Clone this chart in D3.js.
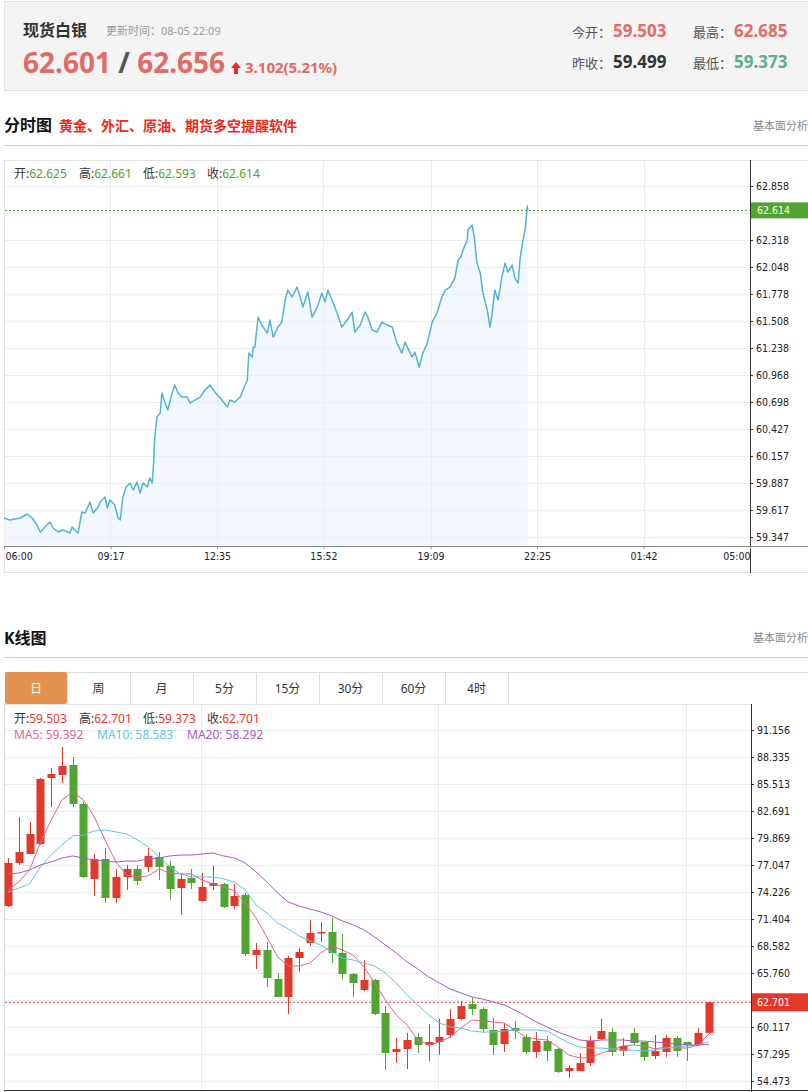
<!DOCTYPE html>
<html>
<head>
<meta charset="utf-8">
<script src="https://cdn.jsdelivr.net/npm/d3@7"></script>
<style>
  body { margin: 0; background: #fff; }
  svg { display: block; }
</style>
</head>
<body>
<script>
// ---- quote header values
var quoteName = "现货白银";
var updateTime = "更新时间：08-05 22:09";
var bidAsk = ["62.601", "62.656"];
var change = "3.102(5.21%)";
var quoteStats = [
  { label: "今开：", value: "59.503", kind: "up" },
  { label: "最高：", value: "62.685", kind: "up" },
  { label: "昨收：", value: "59.499", kind: "flat" },
  { label: "最低：", value: "59.373", kind: "down" }
];

// ---- intraday (分时) data: minutes after 06:00, price
var intradayMinutes = [0,11,30,43,52,61,67,76,85,91,100,109,122,126,131,137,144,150,159,165,
  174,178,187,191,196,205,211,215,220,226,233,239,246,252,257,265,270,274,276,279,
  283,289,292,298,303,311,316,322,329,339,344,353,363,372,381,390,400,413,418,427,
  437,446,450,453,459,461,464,470,477,487,492,498,507,514,520,525,533,542,548,553,
  562,570,579,588,594,599,609,616,625,635,644,649,659,668,673,681,690,699,709,718,
  727,736,742,747,755,760,768,775,783,792,801,810,816,825,834,840,845,849,857,858,
  866,870,875,881,886,894,899,903,908,914,921,927,932,940,945,951,955,960,964,968,969];
var intradayPrices = [59.537,59.517,59.537,59.577,59.537,59.467,59.397,59.447,59.497,59.437,
  59.397,59.417,59.387,59.447,59.417,59.387,59.597,59.587,59.697,59.587,
  59.647,59.697,59.747,59.637,59.717,59.667,59.537,59.517,59.747,59.847,
  59.887,59.817,59.897,59.787,59.887,59.847,59.937,59.887,60.017,60.347,
  60.547,60.587,60.787,60.687,60.617,60.787,60.867,60.787,60.747,60.747,
  60.687,60.717,60.747,60.817,60.867,60.797,60.737,60.647,60.717,60.697,
  60.747,60.867,60.917,61.187,61.147,61.247,61.247,61.547,61.467,61.387,
  61.517,61.347,61.447,61.497,61.717,61.817,61.747,61.847,61.747,61.647,
  61.797,61.547,61.637,61.787,61.697,61.817,61.687,61.587,61.447,61.517,
  61.597,61.397,61.467,61.597,61.547,61.417,61.397,61.497,61.467,61.447,
  61.287,61.187,61.297,61.237,61.147,61.197,61.047,61.187,61.287,61.497,
  61.587,61.747,61.817,61.847,61.937,62.117,62.147,62.217,62.317,62.417,
  62.467,62.347,62.087,61.987,61.787,61.617,61.447,61.587,61.817,61.717,
  61.947,62.087,61.997,62.067,61.937,61.887,62.147,62.317,62.417,62.657,62.614];
var intradayTicks = [59.347,59.617,59.887,60.157,60.427,60.698,60.968,61.238,61.508,61.778,62.048,62.318,62.588,62.858];
var timeTickMinutes = [0,197,394,591,789,986,1183,1380];
var timeLabels = ["06:00","09:17","12:35","15:52","19:09","22:25","01:42","05:00"];
var intradayLast = 62.614;
var intradayBar = [["开:", "62.625"], ["高:", "62.661"], ["低:", "62.593"], ["收:", "62.614"]];

// ---- daily K line data
var kOpen = [72.764,77.258,78.199,79.244,86.143,86.456,87.501,83.425,75.586,77.676,
  73.600,75.795,76.631,76.840,77.885,76.945,74.645,75.691,73.287,74.854,
  75.063,72.764,73.914,67.643,68.165,65.134,63.253,67.329,68.897,69.942,
  70.046,67.852,65.657,63.984,65.030,61.580,57.504,57.818,59.072,58.236,
  58.549,59.281,60.953,62.521,61.998,59.804,58.340,60.013,59.072,57.504,
  58.654,57.818,55.518,55.518,56.354,58.863,59.594,57.609,59.490,58.549,
  57.086,57.504,58.967,58.549,58.236,59.503];
var kClose = [77.258,78.408,80.289,86.038,86.561,87.397,83.425,75.795,77.676,73.600,
  75.795,76.631,75.377,77.990,76.840,74.541,75.586,75.168,74.750,75.168,
  72.659,73.809,67.747,68.165,65.239,63.253,67.329,67.956,69.942,70.046,
  67.852,65.657,64.716,65.030,61.476,57.400,57.818,58.758,58.236,58.549,
  59.072,60.953,62.312,61.998,59.908,58.236,59.908,59.699,57.504,58.654,
  57.609,55.414,55.832,56.354,58.654,59.699,57.504,58.131,58.445,56.981,
  57.609,58.967,57.609,58.236,59.499,62.701];
var kHigh = [77.781,82.066,81.544,86.143,87.188,89.383,88.337,83.634,78.199,78.826,
  76.631,77.049,77.049,78.826,78.408,77.467,76.109,76.631,76.213,76.945,
  75.168,75.063,74.123,68.897,69.001,65.761,67.538,68.374,71.301,71.092,
  71.510,69.837,65.761,67.120,65.134,62.312,58.967,59.490,59.490,60.431,
  60.953,61.998,62.835,63.148,62.207,61.058,60.535,60.744,59.385,59.594,
  59.176,57.922,56.145,57.400,59.176,60.953,60.013,58.967,60.013,58.549,
  59.281,59.281,59.176,58.549,60.013,62.701];
var kLow = [72.659,77.049,78.199,79.140,83.111,85.620,83.111,75.691,73.809,73.078,
  73.078,74.436,74.959,76.318,75.482,73.391,71.823,74.541,73.182,74.436,
  72.555,72.450,67.538,66.179,64.298,63.253,61.476,65.866,68.583,69.001,
  66.806,65.134,63.253,63.880,61.371,55.623,56.354,55.727,57.400,56.563,
  57.191,58.967,60.849,61.371,59.490,57.191,57.504,58.863,57.295,56.877,
  56.563,55.309,54.787,55.518,56.041,58.758,57.086,57.086,58.236,56.563,
  56.772,56.981,56.981,56.563,58.131,59.373];
var ma5 = [74.44,75.27,76.53,79.35,81.75,83.84,84.68,83.84,82.07,79.66,
  77.36,76.00,75.80,75.90,76.63,76.21,76.11,76.11,75.48,75.06,
  74.75,74.33,73.08,71.51,69.52,67.43,66.49,66.49,66.81,67.85,
  68.58,68.17,67.64,66.39,64.72,62.94,61.37,60.33,58.76,58.24,
  58.55,59.07,60.01,60.85,60.74,60.64,60.54,59.80,59.07,58.86,
  58.76,58.03,57.19,56.88,56.88,57.40,57.71,58.13,58.24,58.13,
  57.82,58.03,57.92,57.92,58.24,59.392];
var ma10 = [74.23,74.64,75.06,76.84,78.09,79.14,80.08,80.18,80.60,80.71,
  80.50,80.29,79.66,78.93,77.89,76.84,76.11,75.80,75.80,75.80,
  75.59,75.27,74.44,72.87,72.03,70.99,70.36,69.63,69.11,68.69,
  67.96,67.33,67.12,66.81,66.49,65.76,64.72,63.46,62.42,61.37,
  60.54,60.12,60.01,59.70,59.59,59.59,59.70,59.80,59.80,59.80,
  59.70,59.07,58.44,58.03,57.92,57.92,57.82,57.71,57.71,57.61,
  57.71,57.92,58.03,58.13,58.24,58.583];
var ma20 = [76.11,76.21,76.53,77.05,77.36,77.78,77.99,77.78,77.57,77.46,
  77.36,77.46,77.46,77.68,77.78,77.99,78.09,78.09,78.20,78.30,
  77.99,77.78,77.26,76.32,75.27,74.12,73.18,72.76,72.45,72.14,
  71.72,71.20,70.78,70.26,69.52,68.69,67.85,66.91,66.18,65.34,
  64.72,64.09,63.67,63.25,63.04,62.73,62.42,61.89,61.27,60.64,
  60.12,59.59,59.18,58.76,58.65,58.76,58.76,58.76,58.65,58.65,
  58.55,58.44,58.34,58.24,58.24,58.292];
var kTicks = [54.473,57.295,60.117,62.938,65.760,68.582,71.404,74.226,77.047,79.869,82.691,85.513,88.335,91.156];
var monthStarts = [18, 40, 63];
var kLast = 62.701;
var kBar = [["开:", "59.503"], ["高:", "62.701"], ["低:", "59.373"], ["收:", "62.701"]];
var maLegend = [["MA5: ", "59.392"], ["MA10: ", "58.583"], ["MA20: ", "58.292"]];
var tabs = ["日", "周", "月", "5分", "15分", "30分", "60分", "4时"];

// ---- colours & fonts
var upColor = "#e2392a", downColor = "#4fa52f", priceRed = "#e26b66";
var gridColor = "#e6ecf0";
var maColors = ["#e4628e", "#5fc6e0", "#a95ac8"];
var cnFont = "'Microsoft YaHei','Noto Sans','Noto Sans CJK SC',sans-serif";
var numFont = "'DejaVu Sans Condensed','DejaVu Sans',sans-serif";

var svg = d3.select("body").append("svg")
  .attr("width", 808)
  .attr("height", 1092)
  .style("font-family", cnFont);

function label(g, x, y, str, size, color, weight, anchor) {
  return g.append("text")
    .attr("x", x).attr("y", y)
    .attr("font-size", size)
    .attr("fill", color)
    .attr("font-weight", weight || "normal")
    .attr("text-anchor", anchor || "start")
    .text(str);
}

// ticks hidden behind the price tag get no label
function tagFormat(scale, last) {
  var f = d3.format(".3f");
  return function(d) { return Math.abs(scale(d) - scale(last)) < 10 ? "" : f(d); };
}

// ================= header =================
var head = svg.append("g");
head.append("rect")
  .attr("x", 4.5).attr("y", 1.5).attr("width", 810).attr("height", 89)
  .attr("fill", "#f4f4f4").attr("stroke", "#e3e3e3");
label(head, 23, 36, quoteName, 16, "#333", "bold");
label(head, 106, 35, updateTime, 11, "#9a9a9a");

var big = head.append("text").attr("x", 23).attr("y", 73)
  .attr("font-size", 28).attr("font-weight", "bold").attr("fill", priceRed);
big.append("tspan").text(bidAsk[0]);
big.append("tspan").attr("fill", "#555").text(" / ");
big.append("tspan").text(bidAsk[1]);

head.append("path")
  .attr("d", "M236,62 L241,68 L238,68 L238,74 L234,74 L234,68 L231,68 Z")
  .attr("fill", "#ee2a1f");
label(head, 245, 73, change, 15, priceRed, "bold");

var statColor = { up: priceRed, flat: "#333", down: "#5cae8c" };
quoteStats.forEach(function(s, i) {
  var col = i % 2, row = Math.floor(i / 2);
  var x0 = col === 0 ? 572 : 693;
  var y0 = row === 0 ? 37 : 68;
  label(head, x0, y0, s.label, 13, "#555");
  label(head, x0 + 41, y0, s.value, 17, statColor[s.kind], "bold");
});

// ================= section titles =================
label(svg, 4, 131, "分时图", 16, "#111", "bold");
label(svg, 59, 131, "黄金、外汇、原油、期货多空提醒软件", 14, "#ec2a20", "bold");
label(svg, 808, 130, "基本面分析", 11, "#888", "normal", "end");
svg.append("line").attr("x1", 4).attr("x2", 808).attr("y1", 145.5).attr("y2", 145.5).attr("stroke", "#d0d0d0");

label(svg, 4, 644, "K线图", 16, "#111", "bold");
label(svg, 808, 642, "基本面分析", 11, "#888", "normal", "end");
svg.append("line").attr("x1", 4).attr("x2", 808).attr("y1", 657.5).attr("y2", 657.5).attr("stroke", "#d0d0d0");

// ================= intraday chart =================
var ix = d3.scaleLinear().domain([0, 1380]).range([4, 750]);
var iy = d3.scaleLinear().domain([59.347, 62.858]).range([537, 186]);
var intra = svg.append("g");

intra.append("rect")
  .attr("x", 4.5).attr("y", 160.5).attr("width", 810).attr("height", 412)
  .attr("fill", "#fff").attr("stroke", "#e3e3e3");

// grid
intra.selectAll(".hgrid").data(intradayTicks).enter().append("line")
  .attr("x1", 5).attr("x2", 750)
  .attr("y1", function(d) { return Math.round(iy(d)) + 0.5; })
  .attr("y2", function(d) { return Math.round(iy(d)) + 0.5; })
  .attr("stroke", gridColor);
intra.selectAll(".vgrid").data(timeTickMinutes.slice(1, -1)).enter().append("line")
  .attr("x1", function(d) { return Math.round(ix(d)) + 0.5; })
  .attr("x2", function(d) { return Math.round(ix(d)) + 0.5; })
  .attr("y1", 161).attr("y2", 546)
  .attr("stroke", gridColor);

// area + line
var pts = d3.zip(intradayMinutes, intradayPrices);
intra.append("path").datum(pts)
  .attr("d", d3.area()
    .x(function(d) { return ix(d[0]); })
    .y0(546)
    .y1(function(d) { return iy(d[1]); }))
  .attr("fill", "#eaf4fb").attr("fill-opacity", 0.6);
intra.append("path").datum(pts)
  .attr("d", d3.line()
    .x(function(d) { return ix(d[0]); })
    .y(function(d) { return iy(d[1]); }))
  .attr("fill", "none").attr("stroke", "#52b3d4").attr("stroke-width", 1.5)
  .attr("stroke-linejoin", "round");

// last price dotted line
intra.append("line")
  .attr("x1", 5).attr("x2", 750)
  .attr("y1", iy(intradayLast)).attr("y2", iy(intradayLast))
  .attr("stroke", "#4ea52f").attr("stroke-dasharray", "2,2");

// OHLC bar text
var ibarX = [14, 79, 143, 207];
intradayBar.forEach(function(p, i) {
  var t = intra.append("text").attr("x", ibarX[i]).attr("y", 178).attr("font-size", 12);
  t.append("tspan").attr("fill", "#333").text(p[0]);
  t.append("tspan").attr("fill", "#4ea52f").text(p[1]);
});

// right price axis
var iyAxis = d3.axisRight(iy).tickValues(intradayTicks).tickSize(3).tickPadding(3)
  .tickFormat(tagFormat(iy, intradayLast));
var iyG = intra.append("g").attr("transform", "translate(750,0)").call(iyAxis);
iyG.select(".domain").remove();
iyG.selectAll("text").attr("font-family", numFont).attr("font-size", 10.5).attr("fill", "#222");
iyG.selectAll("line").attr("stroke", "#333");
intra.append("line").attr("x1", 750.5).attr("x2", 750.5).attr("y1", 160).attr("y2", 573).attr("stroke", "#333");

// price tag
intra.append("rect").attr("x", 751).attr("y", iy(intradayLast) - 8).attr("width", 57).attr("height", 16)
  .attr("fill", "#4ea52f");
label(intra, 757, iy(intradayLast) + 4, "62.614", 10.5, "#fff").attr("font-family", numFont);

// time axis
var ixAxis = d3.axisBottom(ix).tickValues(timeTickMinutes).tickSize(3).tickPadding(4)
  .tickFormat(function(d, i) { return timeLabels[i]; });
var ixG = intra.append("g").attr("transform", "translate(0,546)").call(ixAxis);
ixG.select(".domain").remove();
ixG.selectAll("line").attr("stroke", "#999");
ixG.selectAll("text").attr("font-family", numFont).attr("font-size", 10.5).attr("fill", "#222")
  .attr("text-anchor", function(d, i) { return i === 0 ? "start" : (i === timeLabels.length - 1 ? "end" : "middle"); })
  .attr("dx", function(d, i) { return i === 0 ? 1 : 0; });
intra.append("line").attr("x1", 4).attr("x2", 808).attr("y1", 546.5).attr("y2", 546.5).attr("stroke", "#888");

// ================= K line tabs =================
var tabEdges = [5, 67, 130, 193, 256, 319, 382, 445, 508];
var tabG = svg.append("g");
tabG.append("line").attr("x1", 4).attr("x2", 808).attr("y1", 672.5).attr("y2", 672.5).attr("stroke", "#ddd");
tabs.forEach(function(t, i) {
  var x0 = tabEdges[i], x1 = tabEdges[i + 1];
  if (i === 0) {
    tabG.append("rect").attr("x", x0).attr("y", 672).attr("width", x1 - x0).attr("height", 32)
      .attr("rx", 2).attr("fill", "#e3924f");
  }
  tabG.append("line").attr("x1", x1 + 0.5).attr("x2", x1 + 0.5).attr("y1", 672).attr("y2", 704).attr("stroke", "#ddd");
  label(tabG, (x0 + x1) / 2, 693, t, 12, i === 0 ? "#fff" : "#333", "normal", "middle");
});

// ================= K line chart =================
var kx = d3.scaleLinear().domain([0, kOpen.length - 1]).range([8, 709]);
var ky = d3.scaleLinear().domain([54.473, 91.156]).range([1081, 730]);
var kg = svg.append("g");

kg.append("line").attr("x1", 4.5).attr("x2", 4.5).attr("y1", 704).attr("y2", 1092).attr("stroke", "#ddd");
kg.append("line").attr("x1", 4).attr("x2", 751).attr("y1", 704.5).attr("y2", 704.5).attr("stroke", "#e3e3e3");

kg.selectAll(".hgrid").data(kTicks).enter().append("line")
  .attr("x1", 5).attr("x2", 751)
  .attr("y1", function(d) { return Math.round(ky(d)) + 0.5; })
  .attr("y2", function(d) { return Math.round(ky(d)) + 0.5; })
  .attr("stroke", gridColor);
kg.selectAll(".vgrid").data(monthStarts).enter().append("line")
  .attr("x1", function(d) { return Math.round(kx(d)) - 0.5; })
  .attr("x2", function(d) { return Math.round(kx(d)) - 0.5; })
  .attr("y1", 705).attr("y2", 1090)
  .attr("stroke", gridColor);

// legend texts
var kbarX = [14, 79, 143, 207];
kBar.forEach(function(p, i) {
  var t = kg.append("text").attr("x", kbarX[i]).attr("y", 723).attr("font-size", 12);
  t.append("tspan").attr("fill", "#333").text(p[0]);
  t.append("tspan").attr("fill", upColor).text(p[1]);
});
var maX = [14, 97, 187];
maLegend.forEach(function(p, i) {
  label(kg, maX[i], 739, p[0] + p[1], 12, maColors[i]);
});

// last price dashed line
kg.append("line")
  .attr("x1", 5).attr("x2", 751)
  .attr("y1", ky(kLast)).attr("y2", ky(kLast))
  .attr("stroke", upColor).attr("stroke-dasharray", "2,2");

// candles
var candles = kOpen.map(function(o, i) {
  return { i: i, o: o, c: kClose[i], h: kHigh[i], l: kLow[i] };
});
var cg = kg.selectAll(".candle").data(candles).enter().append("g");
cg.append("line")
  .attr("x1", function(d) { return Math.round(kx(d.i)) + 0.5; })
  .attr("x2", function(d) { return Math.round(kx(d.i)) + 0.5; })
  .attr("y1", function(d) { return ky(d.h); })
  .attr("y2", function(d) { return ky(d.l); })
  .attr("stroke", function(d) { return d.c >= d.o ? upColor : downColor; });
cg.append("rect")
  .attr("x", function(d) { return Math.round(kx(d.i)) - 3.5; })
  .attr("width", 8)
  .attr("y", function(d) { return ky(Math.max(d.o, d.c)); })
  .attr("height", function(d) { return Math.max(1.5, Math.abs(ky(d.o) - ky(d.c))); })
  .attr("fill", function(d) { return d.c >= d.o ? upColor : downColor; });

// moving averages
[ma5, ma10, ma20].forEach(function(series, k) {
  kg.append("path").datum(series)
    .attr("d", d3.line()
      .x(function(d, i) { return kx(i); })
      .y(function(d) { return ky(d); }))
    .attr("fill", "none").attr("stroke", maColors[k]).attr("stroke-width", 1);
});

// right axis
var kyAxis = d3.axisRight(ky).tickValues(kTicks).tickSize(3).tickPadding(3)
  .tickFormat(tagFormat(ky, kLast));
var kyG = kg.append("g").attr("transform", "translate(751,0)").call(kyAxis);
kyG.select(".domain").remove();
kyG.selectAll("text").attr("font-family", numFont).attr("font-size", 10.5).attr("fill", "#222");
kyG.selectAll("line").attr("stroke", "#333");
kg.append("line").attr("x1", 751.5).attr("x2", 751.5).attr("y1", 704).attr("y2", 1092).attr("stroke", "#333");
kg.append("line").attr("x1", 4).attr("x2", 808).attr("y1", 1090.5).attr("y2", 1090.5).attr("stroke", "#333");

kg.append("rect").attr("x", 752).attr("y", ky(kLast) - 9).attr("width", 56).attr("height", 18)
  .attr("fill", upColor);
label(kg, 757, ky(kLast) + 4, "62.701", 10.5, "#fff").attr("font-family", numFont);
</script>
</body>
</html>
